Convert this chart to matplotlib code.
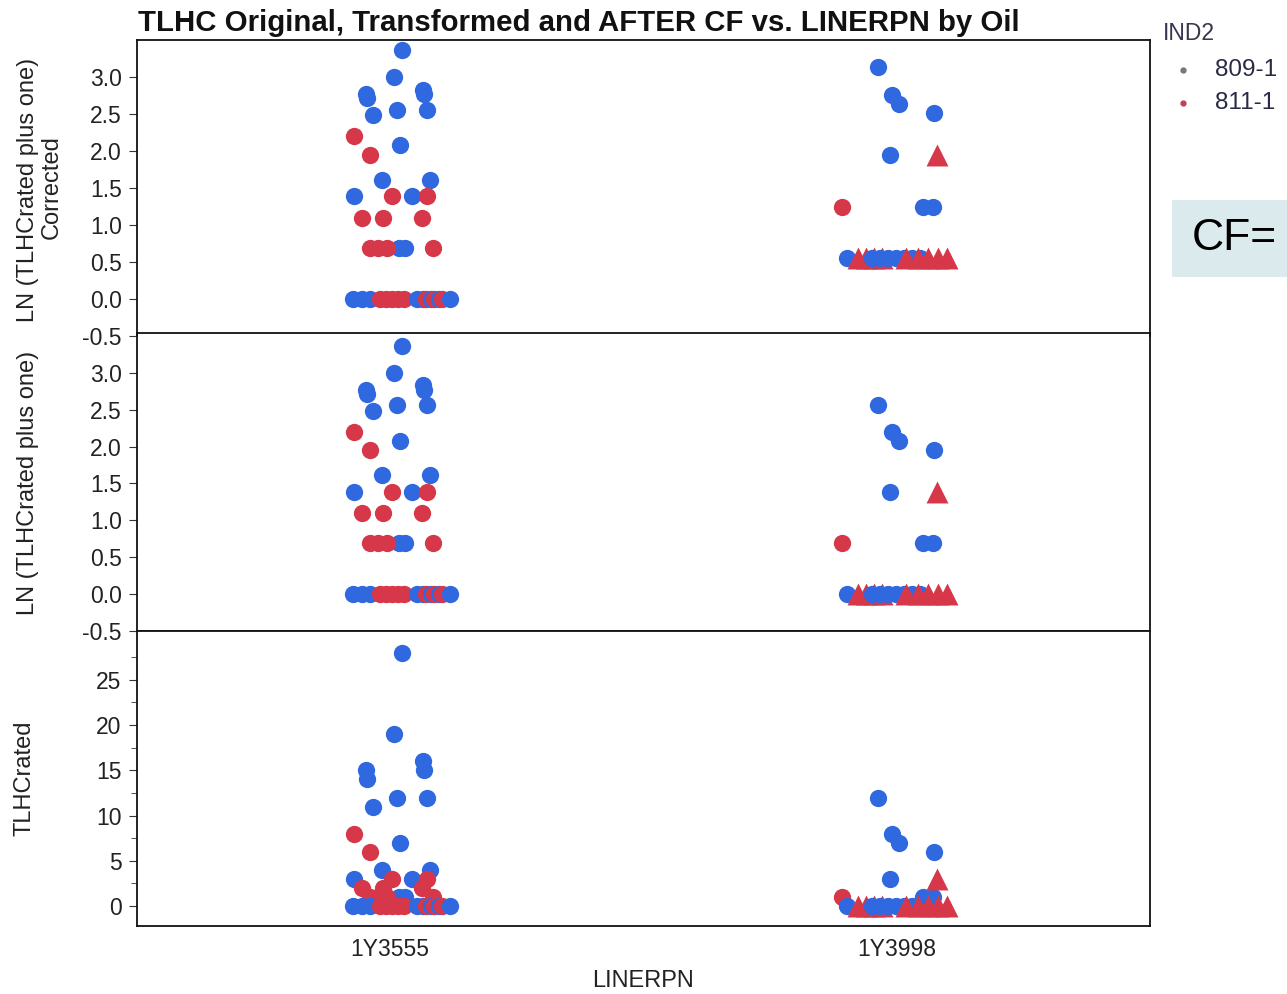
"""TLHC original, transformed and after-CF values vs. LINERPN, stacked jitter panels."""

import matplotlib
import matplotlib.pyplot as plt
import numpy as np

matplotlib.use("Agg")

plt.rcParams["font.family"] = ["Liberation Sans", "DejaVu Sans"]

# categories on the x axis
CATEGORIES = ["1Y3555", "1Y3998"]
GROUPS = ["809-1", "811-1"]

# ---- 1Y3555 rows (jitter in category units, group index 0=809-1 / 1=811-1) ----
# blue points first, then red, then the zero row
A_JIT = [0.024, 0.008, -0.047, -0.045, -0.034, 0.014, 0.065, 0.067, 0.073, 0.020,
         -0.016, 0.079, -0.071, 0.043, 0.018, 0.030,
         -0.071, -0.039, 0.004, 0.073, -0.055, -0.014, 0.063,
         -0.039, -0.024, -0.006, 0.085,
         -0.073, -0.055, -0.039, -0.020, -0.008, 0.004, 0.016, 0.028, 0.053,
         0.065, 0.071, 0.081, 0.087, 0.097, 0.103, 0.118]
A_GRP = [0, 0, 0, 0, 0, 0, 0, 0, 0, 0,
         0, 0, 0, 0, 0, 0,
         1, 1, 1, 1, 1, 1, 1,
         1, 1, 1, 1,
         0, 0, 0, 1, 1, 1, 1, 1, 0,
         0, 1, 0, 1, 0, 1, 0]
A_RAW = [28, 19, 15, 14, 11, 12, 16, 15, 12, 7,
         4, 4, 3, 3, 1, 1,
         8, 6, 3, 3, 2, 2, 2,
         1, 1, 1, 1,
         0, 0, 0, 0, 0, 0, 0, 0, 0,
         0, 0, 0, 0, 0, 0, 0]
A_LN = [3.37, 3.00, 2.77, 2.71, 2.48, 2.56, 2.83, 2.77, 2.56, 2.08,
        1.61, 1.61, 1.39, 1.39, 0.69, 0.69,
        2.20, 1.95, 1.39, 1.39, 1.10, 1.10, 1.10,
        0.69, 0.69, 0.69, 0.69,
        0, 0, 0, 0, 0, 0, 0, 0, 0,
        0, 0, 0, 0, 0, 0, 0]
A_CORR = [3.37, 3.00, 2.77, 2.71, 2.48, 2.56, 2.83, 2.77, 2.56, 2.08,
          1.61, 1.61, 1.39, 1.39, 0.69, 0.69,
          2.20, 1.95, 1.39, 1.39, 1.10, 1.10, 1.10,
          0.69, 0.69, 0.69, 0.69,
          0, 0, 0, 0, 0, 0, 0, 0, 0,
          0, 0, 0, 0, 0, 0, 0]
A_TRI = [0] * len(A_RAW)

# ---- 1Y3998 rows ----
B_JIT = [-0.037, -0.010, 0.004, 0.073, -0.014, 0.051, 0.071,
         -0.109, 0.079,
         -0.099, -0.077, -0.061, -0.045, -0.030,
         -0.049, -0.034, -0.018, -0.002, 0.014, 0.030, 0.045,
         0.018, 0.041, 0.061, 0.081, 0.100]
B_GRP = [0, 0, 0, 0, 0, 0, 0,
         1, 1,
         0, 1, 1, 1, 1,
         0, 0, 0, 0, 0, 0, 0,
         1, 1, 1, 1, 1]
B_TRI = [0, 0, 0, 0, 0, 0, 0,
         0, 1,
         0, 1, 1, 1, 1,
         0, 0, 0, 0, 0, 0, 0,
         1, 1, 1, 1, 1]
B_RAW = [12, 8, 7, 6, 3, 1, 1,
         1, 3,
         0, 0, 0, 0, 0,
         0, 0, 0, 0, 0, 0, 0,
         0, 0, 0, 0, 0]
B_LN = [2.56, 2.20, 2.08, 1.95, 1.39, 0.69, 0.69,
        0.69, 1.39,
        0, 0, 0, 0, 0,
        0, 0, 0, 0, 0, 0, 0,
        0, 0, 0, 0, 0]
B_CORR = [3.13, 2.76, 2.64, 2.51, 1.95, 1.25, 1.25,
          1.25, 1.95,
          0.56, 0.56, 0.56, 0.56, 0.56,
          0.56, 0.56, 0.56, 0.56, 0.56, 0.56, 0.56,
          0.56, 0.56, 0.56, 0.56, 0.56]

BLUE = "#3068e0"
RED = "#d6384a"
TXT = "#222222"
FS = 16.5


def draw_points(ax, xc, jit, grp, tri, vals):
    for j, g, t, v in zip(jit, grp, tri, vals):
        col = BLUE if g == 0 else RED
        if t:
            ax.scatter(xc + j, v, s=250, marker="^", color=col, linewidths=0)
        else:
            ax.scatter(xc + j, v, s=155, marker="o", color=col, linewidths=0)


def style_axis(ax):
    for sp in ax.spines.values():
        sp.set_color("#111111")
        sp.set_linewidth(1.3)
    ax.set_xlim(-0.5, 1.5)
    ax.tick_params(axis="y", direction="out", length=6, labelsize=FS, pad=5,
                   labelcolor=TXT, color="#333333")
    ax.tick_params(axis="y", which="minor", length=4, color="#333333")
    ax.tick_params(axis="x", length=0)


def main():
    fig = plt.figure(figsize=(12.87, 9.94), dpi=100)
    L, W = 137 / 1287, 1013 / 1287
    ax2 = fig.add_axes([L, 1 - 631 / 994, W, 298 / 994])
    ax3 = fig.add_axes([L, 1 - 926 / 994, W, 295 / 994])
    # top panel reaches 3 px into the middle one so its -0.5 tick shows
    ax1 = fig.add_axes([L, 1 - 336 / 994, W, 296 / 994])
    ax1.patch.set_alpha(0)

    panels = [(ax1, A_CORR, B_CORR), (ax2, A_LN, B_LN), (ax3, A_RAW, B_RAW)]
    for ax, a_vals, b_vals in panels:
        draw_points(ax, 0, A_JIT, A_GRP, A_TRI, a_vals)
        draw_points(ax, 1, B_JIT, B_GRP, B_TRI, b_vals)
        style_axis(ax)
    ax1.spines["bottom"].set_visible(False)

    ticks = np.arange(-0.5, 3.01, 0.5)
    for ax in (ax1, ax2):
        ax.set_yticks(ticks)
        ax.set_yticklabels([f"{v:.1f}" for v in ticks])
        ax.set_xticks([])
    ax1.set_ylim(-0.5, 3.50)
    ax2.set_ylim(-0.50, 3.54)

    ax3.set_ylim(-2.2, 30.4)
    ax3.set_yticks([0, 5, 10, 15, 20, 25])
    ax3.set_yticks([2.5, 7.5, 12.5, 17.5, 22.5, 27.5], minor=True)
    ax3.set_xticks([0, 1])
    ax3.set_xticklabels(CATEGORIES, fontsize=FS, color=TXT)
    ax3.tick_params(axis="x", pad=9)

    # y labels
    fig.text(28 / 1287, 1 - 190 / 994, "LN (TLHCrated plus one)", rotation=90,
             ha="center", va="center", fontsize=17, color=TXT)
    fig.text(52 / 1287, 1 - 187 / 994, "Corrected", rotation=90,
             ha="center", va="center", fontsize=17, color=TXT)
    fig.text(28 / 1287, 1 - 483 / 994, "LN (TLHCrated plus one)", rotation=90,
             ha="center", va="center", fontsize=17, color=TXT)
    fig.text(25 / 1287, 1 - 778 / 994, "TLHCrated", rotation=90,
             ha="center", va="center", fontsize=17, color=TXT)

    fig.text(643 / 1287, 1 - 981 / 994, "LINERPN", ha="center", va="center",
             fontsize=17, color=TXT)
    fig.text(138 / 1287, 1 - 23 / 994,
             "TLHC Original, Transformed and AFTER CF vs. LINERPN by Oil",
             ha="left", va="center", fontsize=21.2, fontweight="bold", color="#111111")

    # legend
    fig.text(1163 / 1287, 1 - 33 / 994, "IND2", ha="left", va="center",
             fontsize=16.5, color="#3a3550")
    leg_cols = ["#777777", "#c0405a"]
    for i, (name, c) in enumerate(zip(GROUPS, leg_cols)):
        yy = 1 - (70 + 33 * i) / 994
        fig.lines.append(plt.Line2D([1183 / 1287], [yy], marker="o", markersize=3.5,
                                    color=c, transform=fig.transFigure))
        fig.text(1215 / 1287, yy, name, ha="left", va="center",
                 fontsize=17.5, color="#2a2a45")

    # CF box
    fig.patches.append(plt.Rectangle((1172 / 1287, 1 - 277 / 994), 115 / 1287, 77 / 994,
                                     transform=fig.transFigure, color="#daeaed",
                                     linewidth=0))
    fig.text(1192 / 1287, 1 - 239 / 994, "CF=", ha="left", va="center",
             fontsize=32, color="black")

    fig.savefig("out.png", dpi=100)
    plt.close(fig)


if __name__ == "__main__":
    main()
